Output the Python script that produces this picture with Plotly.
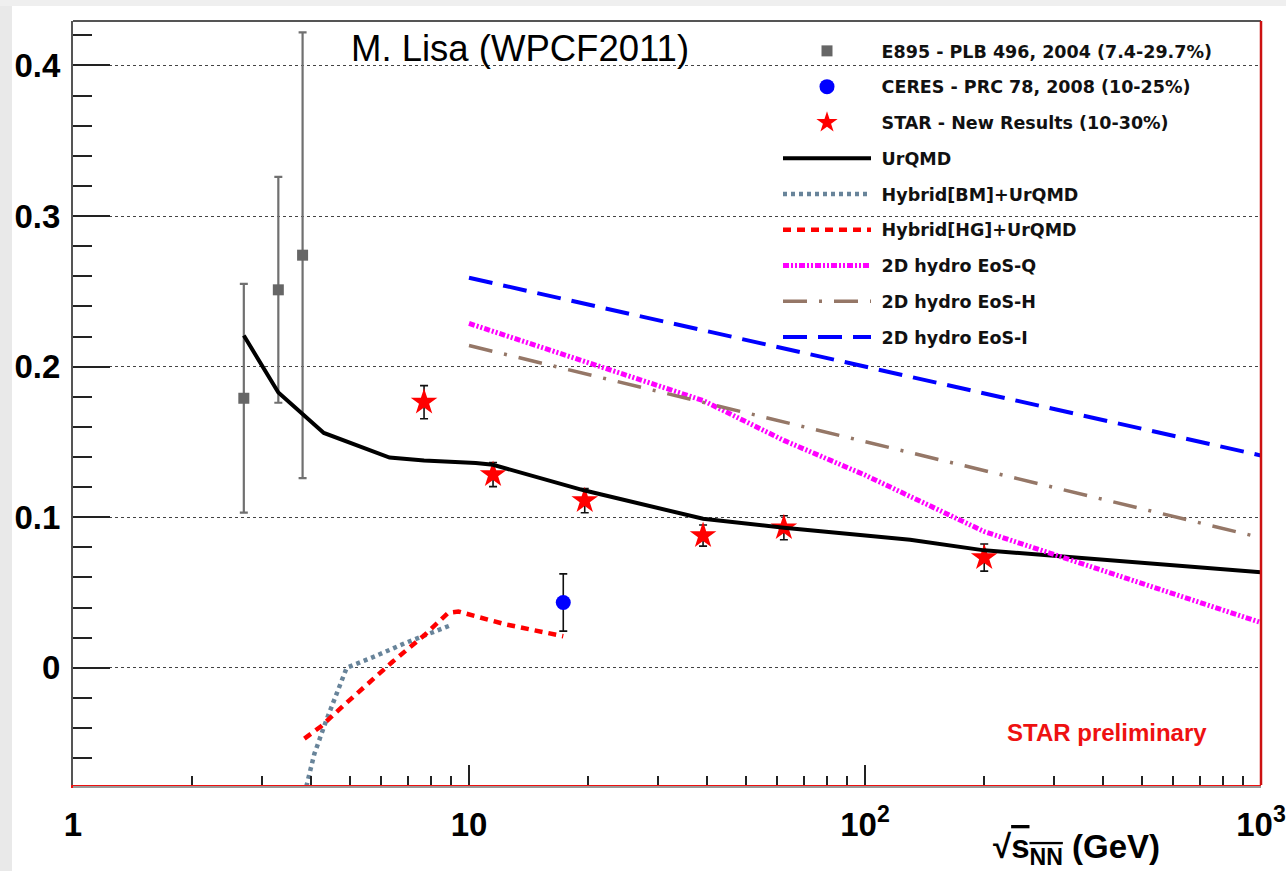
import plotly.graph_objects as go

# ---- data -------------------------------------------------------------
# E895 (gray squares)
e895_x = [2.7, 3.3, 3.8]
e895_y = [0.179, 0.251, 0.274]
e895_err = [0.076, 0.075, 0.148]

# CERES (blue circle)
ceres_x = [17.3]
ceres_y = [0.0434]
ceres_err = [0.019]

# STAR new results (red stars)
star_x = [7.7, 11.5, 19.6, 39.0, 62.4, 200.0]
star_y = [0.1764, 0.1283, 0.111, 0.0878, 0.0930, 0.0732]
star_err = [0.011, 0.008, 0.008, 0.007, 0.008, 0.009]

# UrQMD
urqmd_x = [2.7, 3.3, 4.3, 6.3, 7.7, 10.4, 11.5, 19.6, 39.0, 62.4, 130.0, 200.0, 1000.0]
urqmd_y = [0.2207, 0.1828, 0.156, 0.1396, 0.1376, 0.136, 0.1348, 0.1177, 0.099, 0.093, 0.085, 0.078, 0.0635]

# Hybrid[BM]+UrQMD
bm_x = [3.84, 4.07, 4.36, 4.66, 4.91, 5.83, 6.95, 8.94]
bm_y = [-0.084, -0.057, -0.035, -0.015, 0.0, 0.008, 0.0168, 0.028]

# Hybrid[HG]+UrQMD
hg_x = [3.84, 4.24, 4.86, 6.07, 6.41, 7.74, 8.86, 9.4, 12.3, 17.3]
hg_y = [-0.047, -0.0386, -0.0242, -0.0015, 0.004, 0.022, 0.0365, 0.0374, 0.029, 0.021]

# 2D hydro curves
eosq_x = [10.0, 20.0, 39.0, 62.4, 100.0, 200.0, 1000.0]
eosq_y = [0.2287, 0.203, 0.1775, 0.151, 0.128, 0.0905, 0.030]

eosh_x = [10.0, 100.0, 1000.0]
eosh_y = [0.214, 0.150, 0.0864]

eosi_x = [10.0, 100.0, 1000.0]
eosi_y = [0.259, 0.200, 0.141]

# axis ticks
y_ticks = [0, 0.1, 0.2, 0.3, 0.4]
y_ticktext = ["0", "0.1", "0.2", "0.3", "0.4"]
x_ticks = [1, 10, 100, 1000]
x_ticktext = ["1", "10", "10<sup>2</sup>", "10<sup>3</sup>"]

legend_names = [
    "E895 - PLB 496, 2004 (7.4-29.7%)",
    "CERES - PRC 78, 2008 (10-25%)",
    "STAR - New Results (10-30%)",
    "UrQMD",
    "Hybrid[BM]+UrQMD",
    "Hybrid[HG]+UrQMD",
    "2D hydro EoS-Q",
    "2D hydro EoS-H",
    "2D hydro EoS-I",
]

# ---- figure -----------------------------------------------------------
W, H = 1286, 871
ML, MR, MT, MB = 73, 25, 21, 86

fig = go.Figure()


def label(i):
    return "\u00a0<b>%s</b>" % legend_names[i]


fig.add_trace(go.Scatter(
    x=e895_x, y=e895_y, mode="markers", name=label(0),
    legendrank=1, legendgroup="g1",
    marker=dict(symbol="square", size=11, color="#666666"),
    error_y=dict(type="data", array=e895_err, color="#707070", thickness=2.2, width=4),
))
fig.add_trace(go.Scatter(
    x=ceres_x, y=ceres_y, mode="markers", name=label(1),
    legendrank=2, legendgroup="g2",
    marker=dict(symbol="circle", size=15, color="#0000ff"),
    error_y=dict(type="data", array=ceres_err, color="#111111", thickness=1.6, width=4),
))
fig.add_trace(go.Scatter(
    x=star_x, y=star_y, mode="markers", name=label(2),
    legendrank=3, legendgroup="g3",
    marker=dict(symbol="star", size=20, color="#ff0000"),
    error_y=dict(type="data", array=star_err, color="#111111", thickness=1.6, width=4),
))

line_specs = [
    (urqmd_x, urqmd_y, "#000000", 4, "solid", 4),
    (bm_x, bm_y, "#68849a", 4.5, "4px,4px", 5),
    (hg_x, hg_y, "#ff0000", 4.5, "8px,6px", 6),
    (eosq_x, eosq_y, "#ff00ff", 5, "6px,2px,2px,2px,2px,2px", 7),
    (eosh_x, eosh_y, "#957767", 3.5, "24px,12px,3px,12px", 8),
    (eosi_x, eosi_y, "#0000ff", 4, "24px,11px", 9),
]
for xs, ys, col, wd, dash, rank in line_specs:
    fig.add_trace(go.Scatter(
        x=xs, y=ys, mode="lines", name=label(rank - 1),
        legendrank=rank, legendgroup="g%d" % rank,
        line=dict(color=col, width=wd, dash=dash),
    ))

# paper-coordinate helpers for frame decorations
pw = W - ML - MR
ph = H - MT - MB


def px_x(px):
    return (px - ML) / pw


def px_y(py):
    return (H - MB - py) / ph


shapes = [
    # light gray page edges
    dict(type="rect", xref="paper", yref="paper", x0=px_x(0), x1=px_x(12),
         y0=px_y(H), y1=px_y(0), fillcolor="#e9e9e9", line_width=0, layer="below"),
    dict(type="rect", xref="paper", yref="paper", x0=px_x(0), x1=px_x(W),
         y0=px_y(6), y1=px_y(0), fillcolor="#efefef", line_width=0, layer="below"),
    # blank panel behind the legend (hides the grid, keeps the curves)
    dict(type="rect", xref="paper", yref="paper", x0=px_x(770), x1=px_x(1244),
         y0=px_y(250), y1=px_y(26), fillcolor="#ffffff", line_width=0, layer="between"),
    # top frame
    dict(type="line", xref="paper", yref="paper", x0=0, x1=1, y0=1, y1=1,
         line=dict(color="#555555", width=2)),
    # right frame
    dict(type="line", xref="paper", yref="paper", x0=1, x1=1, y0=0, y1=1,
         line=dict(color="#cc1111", width=2.5)),
    # shadow under the bottom axis
    dict(type="line", xref="paper", yref="paper", x0=0, x1=1, y0=px_y(787), y1=px_y(787),
         line=dict(color="#9a9a9a", width=2)),
]

annotations = [
    dict(text="M. Lisa (WPCF2011)", xref="paper", yref="paper",
         x=px_x(520), y=px_y(48), xanchor="center", yanchor="middle", showarrow=False,
         font=dict(family="Liberation Sans, Arial", size=36.5, color="#000000")),
    dict(text="<b>STAR preliminary</b>", xref="paper", yref="paper",
         x=px_x(1107), y=px_y(732), xanchor="center", yanchor="middle", showarrow=False,
         font=dict(family="Liberation Sans, Arial", size=24, color="#ee1111")),
    dict(text="<b>√<span style='text-decoration:overline'>s<sub>NN</sub></span> (GeV)</b>",
         xref="paper", yref="paper",
         x=px_x(1162), y=px_y(849), xanchor="right", yanchor="middle", showarrow=False,
         font=dict(family="Liberation Sans, Arial", size=33, color="#000000")),
]

fig.update_layout(
    width=W, height=H,
    margin=dict(l=ML, r=MR, t=MT, b=MB, autoexpand=False),
    paper_bgcolor="#ffffff",
    plot_bgcolor="#ffffff",
    showlegend=True,
    legend=dict(
        x=px_x(778), y=px_y(33), xanchor="left", yanchor="top",
        bgcolor="rgba(255,255,255,0)", borderwidth=0,
        font=dict(family="DejaVu Sans", size=17.5, color="#111111"),
        itemwidth=88, tracegroupgap=10, traceorder="grouped",
        itemsizing="trace",
    ),
    xaxis=dict(
        type="log", range=[0, 3], automargin=False,
        tickvals=x_ticks, ticktext=["<b>%s</b>" % t for t in x_ticktext],
        ticks="inside", ticklen=20, tickwidth=1.5, tickcolor="#222222",
        minor=dict(ticks="inside", ticklen=9, tickwidth=1.5, tickcolor="#222222", dtick="D1",
                   showgrid=False),
        showgrid=False, zeroline=False,
        showline=True, linecolor="#ee1111", linewidth=3,
        ticklabelstandoff=8,
        tickfont=dict(family="Liberation Sans, Arial", size=33, color="#000000"),
    ),
    yaxis=dict(
        range=[-0.0778, 0.4295], automargin=False,
        tickvals=y_ticks, ticktext=["<b>%s</b>" % t for t in y_ticktext],
        ticks="inside", ticklen=37, tickwidth=1.5, tickcolor="#222222",
        minor=dict(ticks="inside", ticklen=19, tickwidth=1.5, tickcolor="#222222",
                   dtick=0.02, tick0=0, showgrid=False),
        showgrid=True, gridcolor="#444444", gridwidth=1, griddash="dot",
        zeroline=False,
        showline=True, linecolor="#555555", linewidth=2,
        ticklabelstandoff=4,
        tickfont=dict(family="Liberation Sans, Arial", size=33, color="#000000"),
    ),
    shapes=shapes,
    annotations=annotations,
)

fig.write_html("out.html")
